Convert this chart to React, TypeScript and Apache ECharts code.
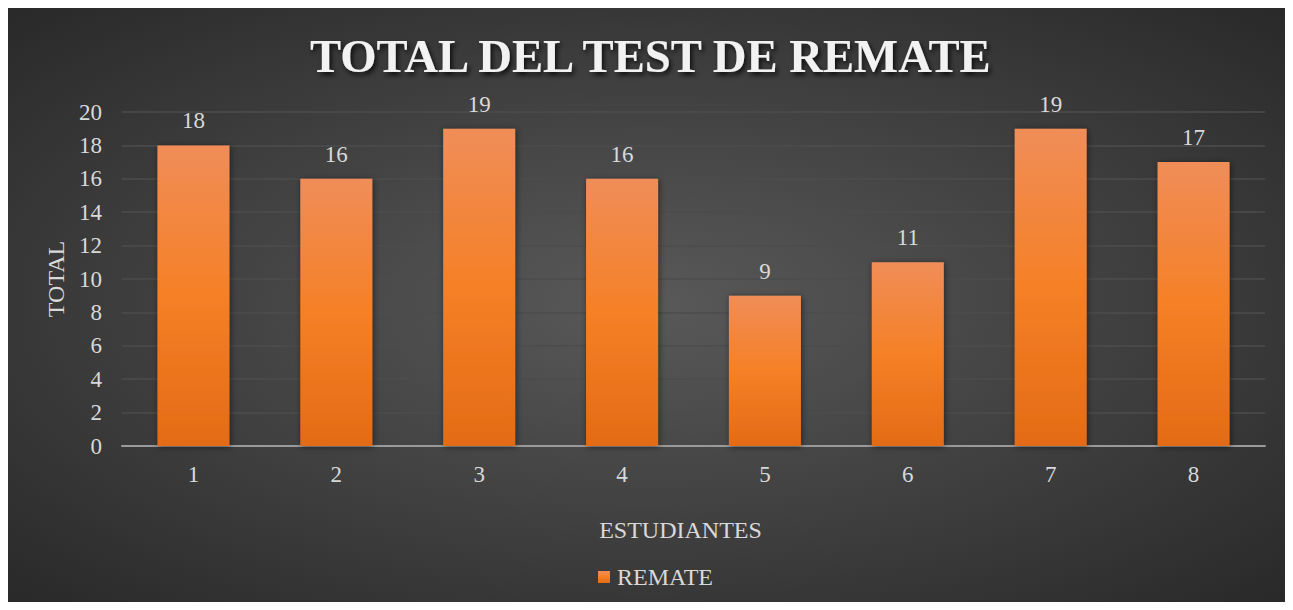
import React, { useEffect, useRef } from "react";
import * as echarts from "echarts";

const categories = ["1", "2", "3", "4", "5", "6", "7", "8"];
const remate = [18, 16, 19, 16, 9, 11, 19, 17];
const titleText = "TOTAL DEL TEST DE REMATE";
const seriesName = "REMATE";
const xName = "ESTUDIANTES";
const yName = "TOTAL";

const FONT = "'Liberation Serif', 'Times New Roman', serif";

export default function App() {
  const ref = useRef<HTMLDivElement>(null);
  useEffect(() => {
    if (!ref.current) return;
    const chart = echarts.init(ref.current, null, { renderer: "svg" });
    chart.setOption({
      animation: false,
      backgroundColor: {
        type: "radial",
        x: 0.5,
        y: 0.5,
        r: 0.75,
        colorStops: [
          { offset: 0, color: "#595959" },
          { offset: 1, color: "#262626" },
        ],
      },
      title: {
        text: titleText,
        left: 297,
        top: 19,
        textStyle: {
          fontFamily: FONT,
          fontSize: 46.7,
          fontWeight: "bold",
          color: "#f2f2f2",
          textShadowColor: "rgba(0,0,0,0.8)",
          textShadowBlur: 5,
          textShadowOffsetX: 2,
          textShadowOffsetY: 3,
        },
      },
      legend: {
        bottom: 8,
        left: 585,
        itemWidth: 12,
        itemHeight: 12,
        itemGap: 4,
        icon: "rect",
        textStyle: { fontFamily: FONT, fontSize: 24, color: "#d9d9d9", padding: [0, 0, 0, 2] },
        data: [seriesName],
      },
      grid: { left: 114, right: 20, top: 104, bottom: 156 },
      xAxis: {
        type: "category",
        data: categories,
        name: xName,
        nameLocation: "middle",
        nameGap: 72,
        nameTextStyle: { fontFamily: FONT, fontSize: 24, color: "#d9d9d9", padding: [0, 26, 0, 0] },
        axisLine: { lineStyle: { color: "#9a9a9a", width: 2 } },
        axisTick: { show: false },
        axisLabel: { fontFamily: FONT, fontSize: 23, color: "#d9d9d9", margin: 17 },
      },
      yAxis: {
        type: "value",
        min: 0,
        max: 20,
        interval: 2,
        name: yName,
        nameLocation: "middle",
        nameGap: 53,
        nameTextStyle: { fontFamily: FONT, fontSize: 24, color: "#d9d9d9" },
        axisLine: { show: false },
        axisTick: { show: false },
        axisLabel: { fontFamily: FONT, fontSize: 23, color: "#d9d9d9", margin: 20 },
        splitLine: { lineStyle: { color: "#4d4d4d", width: 1.5 } },
      },
      series: [
        {
          name: seriesName,
          type: "bar",
          data: remate,
          barWidth: 72,
          itemStyle: {
            color: {
              type: "linear",
              x: 0,
              y: 0,
              x2: 0,
              y2: 1,
              colorStops: [
                { offset: 0, color: "#f08d58" },
                { offset: 0.5, color: "#f58026" },
                { offset: 1, color: "#e36b16" },
              ],
            },
            shadowColor: "rgba(0,0,0,0.5)",
            shadowBlur: 6,
            shadowOffsetX: 1,
            shadowOffsetY: 1,
          },
          label: {
            show: true,
            position: "top",
            distance: 13,
            fontFamily: FONT,
            fontSize: 23,
            color: "#d9d9d9",
          },
        },
      ],
    });
    return () => chart.dispose();
  }, []);
  return <div ref={ref} style={{ width: 1277, height: 594 }} />;
}
